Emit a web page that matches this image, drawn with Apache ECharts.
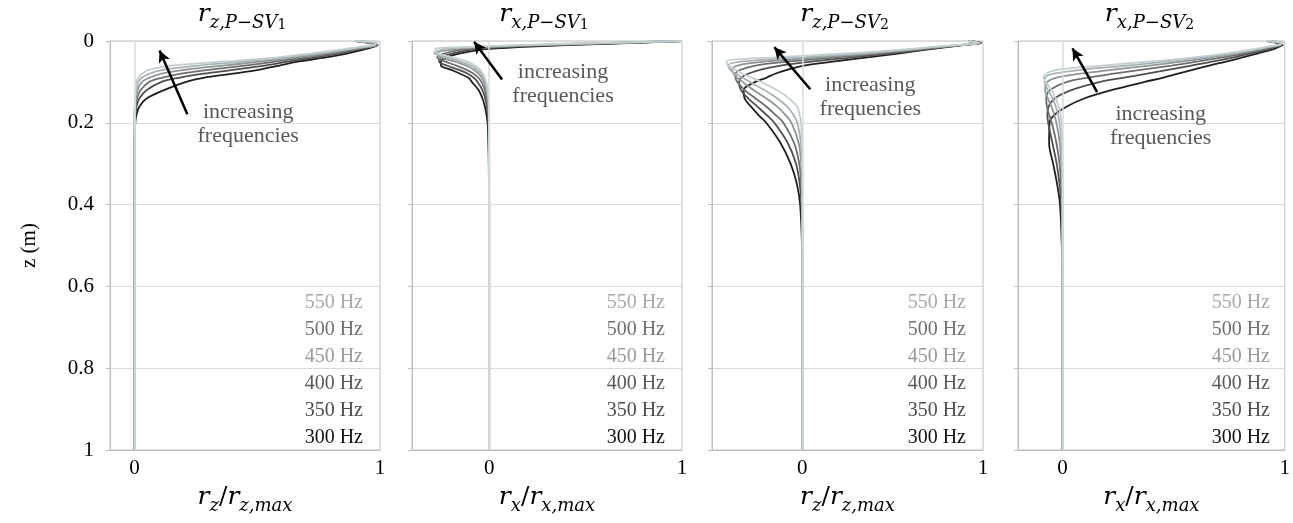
<!DOCTYPE html>
<html>
<head>
<meta charset="utf-8">
<script src="https://cdn.jsdelivr.net/npm/echarts@6/dist/echarts.min.js"></script>
<style>
html, body { margin: 0; padding: 0; background: #fff; }
#chart { width: 1293px; height: 523px; }
</style>
</head>
<body>
<div id="chart"></div>
<script>
// depth samples (m), shared by every curve
var depth = [0, 0.005, 0.01, 0.015, 0.02, 0.03, 0.04, 0.05, 0.06, 0.07, 0.08, 0.09, 0.10,
             0.12, 0.14, 0.16, 0.18, 0.20, 0.25, 0.30, 0.35, 0.40, 0.50, 0.60, 0.80, 1.0];
var freqs = ['300 Hz', '350 Hz', '400 Hz', '450 Hz', '500 Hz', '550 Hz'];

// r_z / r_z,max , P-SV1  (rows: 300 .. 550 Hz)
var rzSV1 = [
    [0.90, 0.96, 0.99, 0.97, 0.94, 0.87, 0.78, 0.67, 0.59, 0.51, 0.40, 0.28, 0.21, 0.12, 0.05, 0.02, 0.008, 0.003, 0, 0, 0, 0, 0, 0, 0, 0],
    [0.90, 0.96, 0.99, 0.96, 0.92, 0.84, 0.74, 0.63, 0.53, 0.41, 0.28, 0.18, 0.11, 0.05, 0.02, 0.008, 0.004, 0.002, 0, 0, 0, 0, 0, 0, 0, 0],
    [0.90, 0.97, 0.99, 0.95, 0.90, 0.81, 0.70, 0.58, 0.45, 0.31, 0.19, 0.11, 0.06, 0.025, 0.01, 0.005, 0.002, 0.001, 0, 0, 0, 0, 0, 0, 0, 0],
    [0.90, 0.97, 0.98, 0.94, 0.89, 0.78, 0.66, 0.52, 0.36, 0.21, 0.11, 0.06, 0.03, 0.012, 0.006, 0.003, 0.001, 0, 0, 0, 0, 0, 0, 0, 0, 0],
    [0.90, 0.98, 0.98, 0.93, 0.87, 0.75, 0.62, 0.45, 0.26, 0.12, 0.06, 0.03, 0.015, 0.007, 0.003, 0.001, 0, 0, 0, 0, 0, 0, 0, 0, 0, 0],
    [0.90, 0.99, 0.97, 0.91, 0.85, 0.72, 0.58, 0.37, 0.15, 0.06, 0.03, 0.015, 0.008, 0.004, 0.002, 0.001, 0, 0, 0, 0, 0, 0, 0, 0, 0, 0]
];
// r_x / r_x,max , P-SV1
var rxSV1 = [
    [1.0, 0.72, 0.40, 0.15, -0.02, -0.15, -0.22, -0.25, -0.25, -0.20, -0.15, -0.107, -0.09, -0.055, -0.035, -0.022, -0.014, -0.008, -0.004, -0.002, -0.001, 0, 0, 0, 0, 0],
    [1.0, 0.68, 0.35, 0.08, -0.07, -0.19, -0.25, -0.26, -0.22, -0.16, -0.11, -0.08, -0.06, -0.035, -0.02, -0.012, -0.007, -0.004, -0.002, -0.001, 0, 0, 0, 0, 0, 0],
    [1.0, 0.64, 0.29, 0.02, -0.12, -0.23, -0.27, -0.23, -0.17, -0.12, -0.08, -0.055, -0.04, -0.022, -0.012, -0.007, -0.004, -0.002, -0.001, 0, 0, 0, 0, 0, 0, 0],
    [1.0, 0.61, 0.24, -0.04, -0.18, -0.27, -0.25, -0.18, -0.12, -0.08, -0.055, -0.038, -0.027, -0.014, -0.007, -0.004, -0.002, -0.001, 0, 0, 0, 0, 0, 0, 0, 0],
    [1.0, 0.58, 0.19, -0.08, -0.23, -0.285, -0.22, -0.15, -0.095, -0.062, -0.042, -0.029, -0.02, -0.01, -0.005, -0.002, -0.001, 0, 0, 0, 0, 0, 0, 0, 0, 0],
    [1.0, 0.55, 0.15, -0.12, -0.28, -0.27, -0.19, -0.115, -0.075, -0.047, -0.033, -0.022, -0.015, -0.007, -0.003, -0.001, 0, 0, 0, 0, 0, 0, 0, 0, 0, 0]
];
// r_z / r_z,max , P-SV2
var rzSV2 = [
    [0.92, 0.99, 0.89, 0.80, 0.71, 0.54, 0.36, 0.18, 0.01, -0.08, -0.15, -0.20, -0.26, -0.325, -0.32, -0.285, -0.245, -0.20, -0.12, -0.065, -0.03, -0.012, -0.002, 0, 0, 0],
    [0.92, 0.99, 0.88, 0.79, 0.69, 0.49, 0.28, 0.06, -0.12, -0.23, -0.30, -0.34, -0.35, -0.34, -0.30, -0.25, -0.20, -0.155, -0.08, -0.035, -0.014, -0.005, 0, 0, 0, 0],
    [0.92, 0.99, 0.88, 0.77, 0.66, 0.44, 0.19, -0.07, -0.26, -0.34, -0.37, -0.37, -0.36, -0.32, -0.26, -0.20, -0.15, -0.105, -0.045, -0.017, -0.006, -0.002, 0, 0, 0, 0],
    [0.92, 0.98, 0.87, 0.75, 0.64, 0.39, 0.10, -0.20, -0.36, -0.39, -0.38, -0.36, -0.33, -0.27, -0.20, -0.14, -0.095, -0.06, -0.02, -0.006, -0.002, 0, 0, 0, 0, 0],
    [0.92, 0.98, 0.86, 0.73, 0.61, 0.33, 0.00, -0.33, -0.41, -0.40, -0.37, -0.33, -0.29, -0.21, -0.14, -0.085, -0.05, -0.028, -0.008, -0.002, 0, 0, 0, 0, 0, 0],
    [0.92, 0.98, 0.85, 0.70, 0.58, 0.26, -0.15, -0.42, -0.41, -0.37, -0.33, -0.28, -0.23, -0.14, -0.075, -0.03, -0.015, -0.007, -0.002, 0, 0, 0, 0, 0, 0, 0]
];
// r_x / r_x,max , P-SV2
var rxSV2 = [
    [0.92, 0.97, 0.99, 0.97, 0.95, 0.88, 0.81, 0.74, 0.66, 0.59, 0.52, 0.45, 0.37, 0.22, 0.10, 0.02, -0.035, -0.058, -0.06, -0.042, -0.024, -0.011, -0.003, 0, 0, 0],
    [0.92, 0.98, 0.99, 0.95, 0.93, 0.85, 0.77, 0.68, 0.58, 0.48, 0.38, 0.27, 0.17, 0.04, -0.035, -0.062, -0.068, -0.064, -0.045, -0.026, -0.013, -0.005, -0.001, 0, 0, 0],
    [0.92, 0.98, 0.98, 0.94, 0.91, 0.82, 0.72, 0.61, 0.49, 0.36, 0.23, 0.11, 0.02, -0.055, -0.073, -0.07, -0.06, -0.048, -0.027, -0.013, -0.006, -0.002, 0, 0, 0, 0],
    [0.92, 0.99, 0.98, 0.93, 0.89, 0.79, 0.67, 0.54, 0.39, 0.23, 0.08, -0.03, -0.068, -0.078, -0.066, -0.05, -0.037, -0.027, -0.012, -0.005, -0.002, 0, 0, 0, 0, 0],
    [0.92, 0.99, 0.97, 0.92, 0.88, 0.77, 0.63, 0.47, 0.29, 0.09, -0.04, -0.078, -0.08, -0.065, -0.045, -0.03, -0.02, -0.013, -0.005, -0.002, 0, 0, 0, 0, 0, 0],
    [0.92, 0.99, 0.96, 0.91, 0.86, 0.74, 0.59, 0.40, 0.18, -0.02, -0.075, -0.085, -0.075, -0.05, -0.03, -0.017, -0.009, -0.005, -0.001, 0, 0, 0, 0, 0, 0, 0]
];
var depthTicks = [0, 0.2, 0.4, 0.6, 0.8, 1];
var xTicks = [0, 1];

var lineColors = ['#1f1f1f', '#4f4f4f', '#6e6e6e', '#8d9597', '#a9b2b5', '#c4cfd2'];
var legendColors = ['#111111', '#4d4d4d', '#5a5a5a', '#9a9a9a', '#707070', '#a8a8a8'];

var serif = 'Liberation Serif';
var math = 'DejaVu Serif';

var panels = [
    { data: rzSV1, comp: 'z', mode: '1', left: 110, width: 270, min: -0.1,
      arrow: [[0.215, 0.179], [0.102, 0.023]], note: [0.463, 0.204] },
    { data: rxSV1, comp: 'x', mode: '1', left: 412, width: 270, min: -0.4,
      arrow: [[0.067, 0.094], [-0.078, 0.002]], note: [0.383, 0.106] },
    { data: rzSV2, comp: 'z', mode: '2', left: 712, width: 271, min: -0.5,
      arrow: [[0.044, 0.118], [-0.155, 0.015]], note: [0.376, 0.138] },
    { data: rxSV2, comp: 'x', mode: '2', left: 1018, width: 269, min: -0.2,
      arrow: [[0.156, 0.125], [0.045, 0.018]], note: [0.442, 0.208] }
];

var mathRich = {
    r: { fontFamily: math, fontStyle: 'italic', fontWeight: 'normal', fontSize: 25, lineHeight: 30, verticalAlign: 'top', color: '#000' },
    m: { fontFamily: math, fontWeight: 'normal', fontSize: 25, lineHeight: 30, verticalAlign: 'top', color: '#000' },
    s: { fontFamily: math, fontStyle: 'italic', fontWeight: 'normal', fontSize: 18, lineHeight: 16, verticalAlign: 'bottom', color: '#000' },
    ss: { fontFamily: math, fontWeight: 'normal', fontSize: 14, lineHeight: 10, verticalAlign: 'bottom', color: '#000' }
};

var grid = [], xAxis = [], yAxis = [], series = [], title = [], legend = [];

panels.forEach(function (p, i) {
    grid.push({ left: p.left, width: p.width, top: 41, height: 409,
        show: true, borderColor: '#bfbfbf', borderWidth: 1 });

    xAxis.push({
        gridIndex: i, type: 'value', min: p.min, max: 1,
        axisLine: { show: true, onZero: false, lineStyle: { color: '#bfbfbf' } },
        axisTick: { show: false },
        splitLine: { show: false },
        axisLabel: { customValues: xTicks, fontFamily: serif, fontSize: 21, color: '#000', margin: 8 },
        name: '{r|r}{s|' + p.comp + '}{m|/}{r|r}{s|' + p.comp + ',max}',
        nameLocation: 'middle', nameGap: 35,
        nameTextStyle: { fontWeight: 'normal', rich: mathRich }
    });

    yAxis.push({
        gridIndex: i, type: 'value', inverse: true, min: 0, max: 1, interval: 0.2,
        axisLine: { show: true, onZero: false, lineStyle: { color: '#bfbfbf' } },
        axisTick: { show: true, length: 4, lineStyle: { color: '#bfbfbf' } },
        axisLabel: { show: i === 0, customValues: depthTicks, fontFamily: serif, fontSize: 21, color: '#000', margin: 16 },
        splitLine: { show: true, lineStyle: { color: '#d9d9d9' } },
        name: i === 0 ? 'z (m)' : '',
        nameLocation: 'middle', nameGap: 70, nameRotate: 90,
        nameTextStyle: { fontFamily: serif, fontSize: 21, color: '#000' }
    });

    title.push({
        text: '{r|r}{s|' + p.comp + ',P\u2212SV}{ss|' + p.mode + '}',
        left: p.left + p.width / 2 - 3, textAlign: 'center', top: 2, padding: 0,
        textStyle: { fontWeight: 'normal', rich: mathRich }
    });

    legend.push({
        orient: 'vertical', right: 1293 - (p.left + p.width - 17), top: 293,
        icon: 'none', itemWidth: 0, itemHeight: 0, itemGap: 7, padding: 0,
        selectedMode: false,
        textStyle: { fontFamily: serif, fontSize: 20, lineHeight: 20 },
        data: freqs.slice().reverse().map(function (f) {
            return { name: f, textStyle: { color: legendColors[freqs.indexOf(f)] } };
        })
    });

    // zero line underneath the curves
    series.push({
        type: 'line', xAxisIndex: i, yAxisIndex: i, data: [], z: 1, silent: true,
        markLine: {
            silent: true, symbol: ['none', 'none'], label: { show: false },
            lineStyle: { color: '#d6dcdd', width: 1.5, type: 'solid' },
            data: [{ xAxis: 0 }]
        }
    });

    p.data.forEach(function (vals, j) {
        series.push({
            name: freqs[j], type: 'line', xAxisIndex: i, yAxisIndex: i, z: 2,
            data: depth.map(function (z, k) { return [vals[k], z]; }),
            showSymbol: false, smooth: 0.35, silent: true,
            lineStyle: { color: lineColors[j], width: 1.8 },
            itemStyle: { color: lineColors[j] }
        });
    });

    // arrow + "increasing frequencies" note
    series.push({
        type: 'line', xAxisIndex: i, yAxisIndex: i, data: [], z: 5, silent: true,
        markLine: {
            silent: true, label: { show: false }, symbolSize: [9, 12],
            lineStyle: { color: '#000', width: 2.5, type: 'solid' },
            data: [[{ coord: p.arrow[0], symbol: 'none' }, { coord: p.arrow[1], symbol: 'arrow' }]]
        },
        markPoint: {
            silent: true, symbol: 'circle', symbolSize: 0,
            label: { show: true, position: 'inside', formatter: 'increasing\nfrequencies',
                fontFamily: serif, fontSize: 22, lineHeight: 24, color: '#595959' },
            data: [{ coord: p.note }]
        }
    });
});

var myChart = echarts.init(document.getElementById('chart'));
myChart.setOption({
    animation: false,
    backgroundColor: '#fff',
    title: title,
    legend: legend,
    grid: grid,
    xAxis: xAxis,
    yAxis: yAxis,
    series: series
});
</script>
</body>
</html>
